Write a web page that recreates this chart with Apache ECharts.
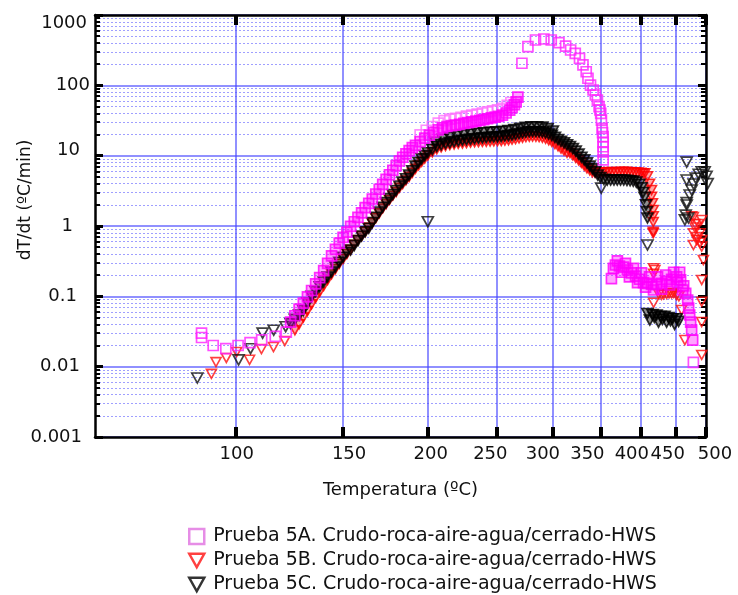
<!DOCTYPE html>
<html><head><meta charset="utf-8">
<script src="https://cdn.jsdelivr.net/npm/echarts@6/dist/echarts.min.js"></script>
<style>html,body{margin:0;padding:0;background:#fff}#c{width:738px;height:595px}</style>
</head><body><div id="c"></div>
<script>
// ---------------- data (temperature ºC, dT/dt ºC/min) ----------------
const nameA = 'Prueba 5A. Crudo-roca-aire-agua/cerrado-HWS';
const nameB = 'Prueba 5B. Crudo-roca-aire-agua/cerrado-HWS';
const nameC = 'Prueba 5C. Crudo-roca-aire-agua/cerrado-HWS';

const xTickTemps = [100,150,200,250,300,350,400,450,500];
const yTickLabels = ['0.001','0.01','0.1','1','10','100','1000'];

// Prueba 5A
const tA_low = [86.5,86.5,91,96,101,106,111,117,122];
const vA_low = [0.030,0.026,0.020,0.018,0.020,0.022,0.024,0.027,0.031];
const tA_rise = [124,126,128,130,132,134,136,138,140,142,144,146,148,150,152,154,156,158,160,162,164,166,168,170,172,174,176,178,180,182,184,186,188,190,192,195,198,201,204,207,210,213,216,219,222,225,228,231,234,237,240,243,246,249,252,255,258,261,263,265,266.5,268];
const vA_rise = [0.043,0.053,0.066,0.080,0.098,0.121,0.150,0.185,0.232,0.295,0.375,0.465,0.57,0.69,0.82,0.99,1.15,1.33,1.54,1.82,2.1,2.42,2.85,3.33,3.9,4.6,5.35,6.2,7.2,8.4,9.5,10.6,11.8,13.0,14.0,15.8,17.8,19.6,21.4,23.2,24.8,26.0,26.7,27.2,27.9,28.7,29.5,30.2,31.0,31.8,32.6,33.5,34.4,35.3,36.2,37.6,40.4,44.5,48,53,58,68];
const tA_upper = [195,199,203,207,211,215,219,223,227,231,235,239,243,247,251,255,259,262];
const vA_upper = [19.8,23,26,29,31.5,33,34,35,36.5,37.8,39,40.4,41.9,43.4,44.9,47,52,57];
const tA_peak = [271.5,276.8,283.6,291.4,298.4,305.9,312.6,317.7,322.5,327.0,330.7,334.2,336.1,338.9,341.8,344.3,346.6,348.5,349.5,350.4,351.2,352.0,352.5,353.2,353.2,353.2,353.2,353.2];
const vA_peak = [206,354,441,456,441,404,362,318,285,242,195,156,126,101,85.8,72.9,61.8,49.7,44.6,40.0,32.1,24.5,21.3,18.6,15.5,13.4,11.3,8.7];
const tA_hot = [362.9,365.3,367.7,372.6,377.6,382.6,387.7,393.0,398.2,403.6,409.1,414.6,421.7,428.9,436.3,443.8,451.5,457.7,462.6,465.8,469.0,470.6,472.3,473.9,475.5,477.2,
                370.1,380.1,390.3,400.9,411.9,423.1,434.8,446.9,456.2,
                375.1,385.1,395.6,406.4,417.4,428.9,440.8,453.0,461.0];
const vA_hot = [0.178,0.25,0.279,0.27,0.26,0.237,0.215,0.194,0.175,0.157,0.153,0.148,0.148,0.153,0.163,0.175,0.189,0.171,0.141,0.110,0.0887,0.068,0.0543,0.0431,0.0332,0.0239,
                0.32,0.295,0.25,0.215,0.189,0.189,0.201,0.22,0.22,
                0.22,0.189,0.157,0.135,0.123,0.127,0.145,0.157,0.123];
const tA_last = [478.4];
const vA_last = [0.0115];

// Prueba 5B
const tB_low = [90.3,92.1,96.2,100.4,105.8,110.9,116.2,121.3];
const vB_low = [0.0079,0.0116,0.0133,0.0162,0.0125,0.0178,0.019,0.0232];
const tB_rise = [126,128,130,132,134,136,138,140,142,144,146,148,150,152,154,156,158,160,162,164,166,168,170,172,174,176,178,180,182,184,186,188,190,192,194,196,198,200,
                 203,206,209,212,215,218,221,224,227,230,233,236,239,242,245,248,251,254,257,260,263,266,269,272,275,278,281,284,287,290,293,296,299,302,305,308,311,314,317,320,323,326,329,332,335,338,341];
const vB_rise = [0.033,0.040,0.050,0.062,0.077,0.095,0.115,0.14,0.17,0.205,0.245,0.29,0.34,0.40,0.46,0.54,0.63,0.72,0.83,0.95,1.1,1.3,1.52,1.78,2.05,2.35,2.7,3.05,3.5,3.95,4.45,5.0,5.7,6.5,7.3,8.2,9.1,10.0,
                 11.2,12.3,13.1,13.7,14.1,14.4,14.7,14.9,15.1,15.3,15.5,15.6,15.7,15.8,15.9,16.0,16.1,16.2,16.4,16.6,16.9,17.2,17.6,18.0,18.4,18.6,18.7,18.6,18.4,18.0,17.4,16.6,15.7,14.6,13.6,12.6,11.8,11.0,10.9,10.1,9.3,8.6,7.9,7.2,6.6,6.2,5.8];
const tB_plat = [344,348,352,356,360,364,368,372,376,380,384,388,392,396,400,403,405.5,409.1,411.9,414.6,414.6,415.9,417,417,417,417,417];
const vB_plat = [5.7,5.7,5.8,5.8,5.85,5.85,5.8,5.85,5.9,5.9,5.85,5.8,5.8,5.75,5.7,5.6,5.6,5.1,4.0,3.25,2.6,2.1,1.69,1.38,1.14,0.83,0.79];
const tB_hot = [417.5,417.5,419.3,417.5,425,428.9,432,436.3,440,443.8,447,451.5,455,459.3,464.5,
                475.5,478.3,478.4,478.4,481.1,481,484,484,486.8,489.6,489.6,492.5,492.5,492.5,495.4,492.5,492.5,492.5,492.5];
const vB_hot = [0.25,0.21,0.237,0.081,0.108,0.105,0.107,0.108,0.11,0.11,0.112,0.104,0.1,0.064,0.0239,
                1.38,1.34,0.79,0.537,1.07,0.95,0.7,0.632,1.07,0.79,0.58,1.22,0.632,0.51,0.328,0.171,0.084,0.043,0.0147];

// Prueba 5C
const tC_low = [84.9,101.2,106.2,111.4,116.3,121.7];
const vC_low = [0.0069,0.0125,0.018,0.030,0.033,0.037];
const tC_rise = [124,126,128,130,132,134,136,138,140,142,144,146,148,150,152,154,156,158,160,162,164,166,168,170,172,174,176,178,180,182,184,186,188,190,192,194,196,198,200,
                 203,206,209,212,215,218,221,224,227,230,233,236,239,242,245,248,251,254,257,260,263,266,269,272,275,278,281,284,287,290,293,296,299,302,305,308,311,314,317,320,323,326,329,332,335,338,341,344,347,350,
                 354,358,362,366,370,374,378,382,386,390,394,398,401,403,405,407,408,409];
const vC_rise = [0.041,0.047,0.054,0.063,0.080,0.10,0.117,0.137,0.160,0.188,0.222,0.26,0.305,0.36,0.42,0.455,0.53,0.62,0.72,0.83,0.93,1.12,1.33,1.58,1.85,2.15,2.45,2.8,3.2,3.7,4.2,4.7,5.3,6.1,7.1,8.0,9.0,10.0,11.0,
                 12.3,13.5,14.3,14.9,15.3,15.8,16.2,16.6,16.9,17.1,17.4,17.7,17.9,18.1,18.3,18.4,18.5,18.7,19.0,19.3,19.6,20.0,20.5,21.0,21.5,21.8,21.9,21.9,21.8,21.6,21.0,20.3,19.4,18.2,17.0,16.0,15.2,14.3,13.5,12.6,11.6,10.5,9.5,8.7,7.9,7.1,6.5,5.9,5.3,4.9,
                 4.6,4.5,4.5,4.5,4.5,4.5,4.5,4.45,4.4,4.35,4.2,3.9,3.5,3.0,2.55,2.0,1.6,1.3];
const tC_upper = [205,210,215,220,225,230,235,240,245,250,255,260,265,270,275,280,285,290,295,300];
const vC_upper = [15.5,17.1,18.1,19,19.7,20.2,20.8,21.2,21.6,21.8,22.2,22.8,23.5,24.4,25.4,25.8,25.8,25.5,24.2,22.4];
const tC_odd = [200,409,351];
const vC_odd = [1.15,0.537,3.46];
const tC_hot = [409.0,412.3,415.9,418.5,421.7,424.5,427.4,430,433.3,436.3,439.3,442,445.3,448.4,451.5,454.6];
const vC_hot = [0.057,0.046,0.055,0.050,0.0543,0.043,0.052,0.047,0.052,0.043,0.050,0.045,0.048,0.040,0.048,0.044];
const tC_end = [464.5,465.8,467.4,467.4,467.4,467.4,470.2,472.3,475.5,478.8,482.2,487.4,492.5,497.6,501,503];
const vC_end = [1.22,1.43,1.99,2.15,4.5,8.1,1.3,2.76,3.25,3.95,4.8,5.45,5.9,5.9,5.1,4.0];

// ---------------- chart ----------------
const FONT = 'DejaVu Sans';
const toX = T => 1000 / (T + 273.15);   // Arrhenius-type temperature axis
const pts = (T, V, style) => T.map((t, i) => style ? {value: [toX(t), V[i]], itemStyle: style} : [toX(t), V[i]]);

const denseA = {color: 'rgba(255,0,255,0.45)', borderColor: '#ff00ff'};
const lightA = {color: 'rgba(255,255,255,0)', borderColor: '#ff70ff'};
const denseB = {color: 'rgba(255,0,0,0.45)', borderColor: '#ff0000'};
const denseC = {color: 'rgba(0,0,0,0.55)', borderColor: '#000'};

const dataA = [].concat(pts(tA_low, vA_low), pts(tA_upper, vA_upper, lightA), pts(tA_rise, vA_rise, denseA),
                        pts(tA_peak, vA_peak), pts(tA_hot, vA_hot, denseA), pts(tA_last, vA_last));
const dataB = [].concat(pts(tB_low, vB_low), pts(tB_rise, vB_rise, denseB), pts(tB_plat, vB_plat, denseB), pts(tB_hot, vB_hot));
const dataC = [].concat(pts(tC_low, vC_low), pts(tC_upper, vC_upper, denseC), pts(tC_rise, vC_rise, denseC), pts(tC_odd, vC_odd),
                        pts(tC_hot, vC_hot, denseC), pts(tC_end, vC_end));

const xTicks = xTickTemps.map(toX);
const yMinor = [];
for (let n = -3; n < 3; n++) for (let k = 2; k <= 9; k++) yMinor.push(n + Math.log10(k));

const xShift = {100:1,150:6,200:3,250:-6,300:-10,350:-13,400:-9,450:-8,500:9};
const xRich = {};
xTickTemps.forEach(t => {
  const s = xShift[t] || 0;
  xRich['x' + t] = {fontFamily: FONT, fontSize: 18, color: '#111', padding: s >= 0 ? [0,0,0,2*s] : [0,-2*s,0,0]};
});
const yPad = {'1000':[16,3,0,0],'100':[0,0,0,0],'10':[0,10,10,0],'1':[0,17,0,0],'0.1':[0,13,0,0],'0.01':[0,10,0,0],'0.001':[0,8,0,0]};
const yRich = {};
yTickLabels.forEach((l, i) => { yRich['y' + i] = {fontFamily: FONT, fontSize: 18, color: '#111', padding: yPad[l]}; });

const MAJOR = 'rgba(70,70,255,0.8)';
const MINOR = 'rgba(80,80,255,0.55)';
const xMin = toX(500), xMax = toX(50);

const xAxisBase = {
  type: 'value', inverse: true, min: xMin, max: xMax,
  axisLine: {show: true, onZero: false, lineStyle: {color: '#000', width: 2.5}},
  axisTick: {show: true, inside: true, length: 10, customValues: xTicks, lineStyle: {color: '#000', width: 4}},
};

const chart = echarts.init(document.getElementById('c'));
chart.setOption({
  animation: false,
  backgroundColor: '#fff',
  grid: {left: 95, right: 32, top: 15, bottom: 158},
  xAxis: [
    Object.assign({}, xAxisBase, {
      position: 'bottom',
      axisLabel: {customValues: xTicks, margin: 8, formatter: v => { const t = Math.round(1000 / v - 273.15); return '{x' + t + '|' + t + '}'; }, rich: xRich},
      splitLine: {show: true, lineStyle: {color: MAJOR, width: 1.5}},
      name: 'Temperatura (ºC)', nameLocation: 'middle', nameGap: 44,
      nameTextStyle: {fontFamily: FONT, fontSize: 18, color: '#111'}
    }),
    Object.assign({}, xAxisBase, {position: 'top', axisLabel: {show: false}, splitLine: {show: false}})
  ],
  yAxis: [
    {type: 'log', logBase: 10, min: 0.001, max: 1000, position: 'left',
     axisLine: {show: true, onZero: false, lineStyle: {color: '#000', width: 2.5}},
     axisTick: {show: true, inside: true, length: 8, lineStyle: {color: '#000', width: 3}},
     axisLabel: {margin: 5, formatter: v => { const l = String(parseFloat(v.toPrecision(6))); const i = yTickLabels.indexOf(l); return i < 0 ? l : '{y' + i + '|' + l + '}'; }, rich: yRich},
     splitLine: {show: true, lineStyle: {color: MAJOR, width: 1.5}},
     name: 'dT/dt (ºC/min)', nameLocation: 'middle', nameGap: 61, nameMoveOverlap: false,
     nameTextStyle: {fontFamily: FONT, fontSize: 17, color: '#111', padding: [0,0,0,52]}},
    {type: 'log', logBase: 10, min: 0.001, max: 1000, position: 'right',
     axisLine: {show: true, onZero: false, lineStyle: {color: '#000', width: 2.5}},
     axisTick: {show: true, inside: true, length: 8, lineStyle: {color: '#000', width: 3}},
     axisLabel: {show: false}, splitLine: {show: false}},
    {type: 'value', min: -3, max: 3, position: 'left',
     axisLine: {show: false},
     axisTick: {show: true, inside: true, length: 5, customValues: yMinor, lineStyle: {color: '#000', width: 2}},
     axisLabel: {show: false},
     splitLine: {show: true, lineStyle: {color: MINOR, width: 1, type: [2, 2]}}},
    {type: 'value', min: -3, max: 3, position: 'right',
     axisLine: {show: false},
     axisTick: {show: true, inside: true, length: 5, customValues: yMinor, lineStyle: {color: '#000', width: 2}},
     axisLabel: {show: false}, splitLine: {show: false}}
  ],
  legend: {
    orient: 'vertical', left: 188, top: 527, height: 68, padding: 0, itemWidth: 15, itemHeight: 15, itemGap: 5,
    textStyle: {fontFamily: FONT, fontSize: 19, lineHeight: 19, color: '#111', padding: [0,0,0,4]},
    data: [
      {name: nameA, icon: 'rect', itemStyle: {color: 'rgba(255,255,255,0)', borderColor: '#e070e0', borderWidth: 2.5}},
      {name: nameB, icon: 'path://M0,0 L10,0 L5,9 Z', itemStyle: {color: 'rgba(255,255,255,0)', borderColor: '#ff1010', borderWidth: 2.5}},
      {name: nameC, icon: 'path://M0,0 L10,0 L5,9 Z', itemStyle: {color: 'rgba(255,255,255,0)', borderColor: '#000', borderWidth: 2.5}}
    ]
  },
  series: [
    {name: nameB, type: 'scatter', xAxisIndex: 0, yAxisIndex: 0, clip: false, symbol: 'triangle', symbolRotate: 180, symbolSize: [10, 9],
     itemStyle: {color: 'rgba(255,255,255,0)', borderColor: '#ff1010', borderWidth: 1.6}, data: dataB},
    {name: nameC, type: 'scatter', xAxisIndex: 0, yAxisIndex: 0, clip: false, symbol: 'triangle', symbolRotate: 180, symbolSize: [11, 10],
     itemStyle: {color: 'rgba(255,255,255,0)', borderColor: '#111', borderWidth: 1.7}, data: dataC},
    {name: nameA, type: 'scatter', xAxisIndex: 0, yAxisIndex: 0, clip: false, symbol: 'rect', symbolSize: 10,
     itemStyle: {color: 'rgba(255,255,255,0)', borderColor: '#ff22ff', borderWidth: 1.7}, data: dataA}
  ]
});
</script>
</body></html>
